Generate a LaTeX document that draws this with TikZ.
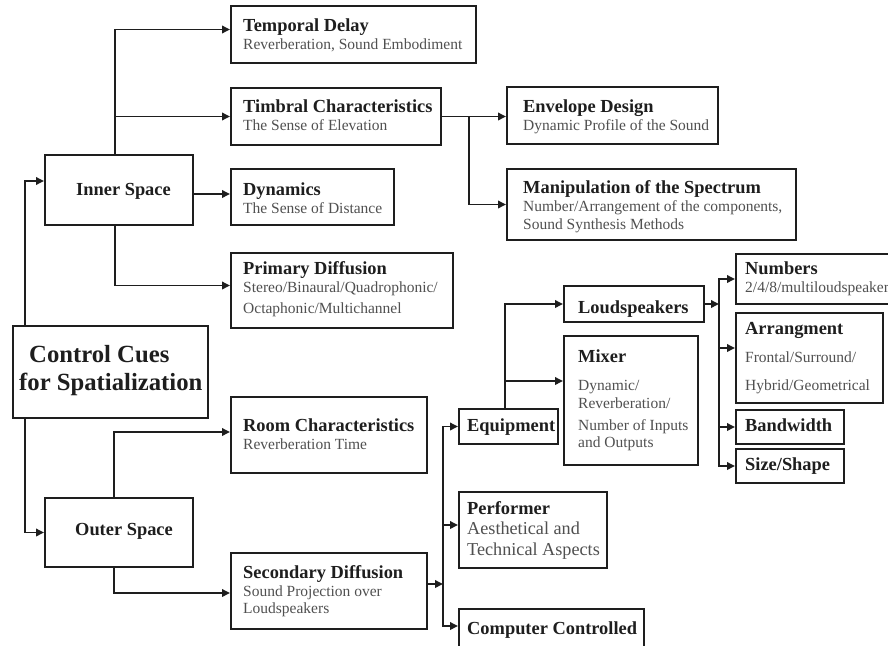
\documentclass[tikz,border=0pt]{standalone}
\usepackage{fontspec}
\setmainfont{Liberation Serif}
\usetikzlibrary{arrows.meta,calc}
\definecolor{ink}{HTML}{1E1E1E}
\definecolor{subink}{HTML}{505050}
\tikzset{
  box/.style={draw=ink, line width=2pt, inner sep=0pt, anchor=north west},
  conn/.style={draw=ink, line width=1.8pt},
  arr/.style={conn, -{Triangle[length=8pt,width=7.5pt]}},
  ttl/.style={anchor=base west, inner sep=0pt, text=ink, font=\fontsize{18.4}{20}\selectfont\bfseries},
  big/.style={anchor=base west, inner sep=0pt, text=ink, font=\fontsize{24.7}{28}\selectfont\bfseries},
  sub/.style={anchor=base west, inner sep=0pt, text=subink, font=\fontsize{15.5}{18}\selectfont},
  subL/.style={anchor=base west, inner sep=0pt, text=subink, font=\fontsize{18.2}{20}\selectfont},
}
% box given by its corners (x1,y1) and (x2,y2), y counted downwards
\newcommand\boxat[5]{\node[box, minimum width=#4-#2, minimum height=#5-#3] (#1) at (#2,#3) {};}
\begin{document}
\begin{tikzpicture}[x=1pt,y=-1pt]
\useasboundingbox (0,0) rectangle (888,645);
\clip (0,0) rectangle (888,645);
\fill[white] (0,0) rectangle (888,645);

% ---- boxes ----
\boxat{ctrl}{12}{325}{207}{417}
\boxat{inner}{44}{154}{192}{224}
\boxat{outer}{44}{497}{192}{566}
\boxat{temporal}{230}{5}{475}{62}
\boxat{timbral}{230}{87}{440}{144}
\boxat{dynamics}{230}{168}{393}{224}
\boxat{primary}{230}{252}{452}{327}
\boxat{envelope}{506}{86}{717}{143}
\boxat{manip}{506}{168}{795}{239}
\boxat{room}{230}{396}{426}{472}
\boxat{secondary}{230}{552}{426}{628}
\boxat{equipment}{458}{408}{557}{443}
\boxat{performer}{458}{491}{606}{567}
\boxat{computer}{458}{608}{643}{650}
\boxat{loud}{563}{285}{703}{321}
\boxat{mixer}{563}{335}{697}{464}
\boxat{numbers}{735}{253}{895}{303}
\boxat{arrang}{735}{312}{882}{402}
\boxat{bandwidth}{735}{409}{843}{443}
\boxat{size}{735}{448}{843}{482}

% ---- texts ----
\node[big] (ctrl-t1) at (29,362) {Control Cues};
\node[big] (ctrl-t2) at (19,390) {for Spatialization};
\node[ttl, anchor=base] (inner-t) at (123.5,195) {Inner Space};
\node[ttl, anchor=base] (outer-t) at (124,535) {Outer Space};

\node[ttl] (temporal-t) at (243,31) {Temporal Delay};
\node[sub] (temporal-s) at (243,49) {Reverberation, Sound Embodiment};
\node[ttl] (timbral-t) at (243,112.5) {Timbral Characteristics};
\node[sub] (timbral-s) at (243,130.5) {The Sense of Elevation};
\node[ttl] (dynamics-t) at (243,195) {Dynamics};
\node[sub] (dynamics-s) at (243,213) {The Sense of Distance};
\node[ttl] (primary-t) at (243,274) {Primary Diffusion};
\node[sub] (primary-s1) at (243,292) {Stereo/Binaural/Quadrophonic/};
\node[sub] (primary-s2) at (243,313) {Octaphonic/Multichannel};

\node[ttl] (envelope-t) at (523,112.5) {Envelope Design};
\node[sub] (envelope-s) at (523,130.5) {Dynamic Profile of the Sound};
\node[ttl] (manip-t) at (523,193) {Manipulation of the Spectrum};
\node[sub] (manip-s1) at (523,211.5) {Number/Arrangement of the components,};
\node[sub] (manip-s2) at (523,229) {Sound Synthesis Methods};

\node[ttl] (room-t) at (243,431.5) {Room Characteristics};
\node[sub] (room-s) at (243,449) {Reverberation Time};
\node[ttl] (secondary-t) at (243,578) {Secondary Diffusion};
\node[sub] (secondary-s1) at (243,596) {Sound Projection over};
\node[sub] (secondary-s2) at (243,613) {Loudspeakers};

\node[ttl] (equipment-t) at (467,431) {Equipment};
\node[ttl] (performer-t) at (467,514) {Performer};
\node[subL] (performer-s1) at (467,534) {Aesthetical and};
\node[subL] (performer-s2) at (467,555) {Technical Aspects};
\node[ttl] (computer-t) at (467,634) {Computer Controlled};

\node[ttl] (loud-t) at (578,313) {Loudspeakers};
\node[ttl] (mixer-t) at (578,362) {Mixer};
\node[sub] (mixer-s1) at (578,390) {Dynamic/};
\node[sub] (mixer-s2) at (578,408) {Reverberation/};
\node[sub] (mixer-s3) at (578,430) {Number of Inputs};
\node[sub] (mixer-s4) at (578,447) {and Outputs};

\node[ttl] (numbers-t) at (745,274) {Numbers};
\node[sub] (numbers-s) at (745,292.5) {2/4/8/multiloudspeaker};
\node[ttl] (arrang-t) at (745,334) {Arrangment};
\node[sub] (arrang-s1) at (745,362) {Frontal/Surround/};
\node[sub] (arrang-s2) at (745,390) {Hybrid/Geometrical};
\node[ttl] (bandwidth-t) at (745,431) {Bandwidth};
\node[ttl] (size-t) at (745,470) {Size/Shape};

% ---- connectors ----
% root to the two spaces
\draw[arr] ($(ctrl.north west)+(13,0)$) |- ($(inner.west)+(0,-9)$);
\draw[arr] ($(ctrl.south west)+(13,0)$) |- (outer.west);

% inner space branches
\draw[arr] ($(inner.north)+(-4,0)$) |- ($(temporal.west)+(0,-5)$);
\draw[arr] ($(inner.north)+(-4,0)$) |- (timbral.west);
\draw[arr] ($(inner.east)+(0,4)$) -- ($(dynamics.west)+(0,-3)$);
\draw[arr] ($(inner.south)+(-4,0)$) |- ($(primary.west)+(0,-5)$);

% timbral characteristics branches
\draw[arr] (timbral.east) -- (timbral.east -| envelope.west);
\draw[arr] ($(timbral.east)+(27,0)$) |- (manip.west);

% outer space branches
\draw[arr] ($(outer.north)+(-5,0)$) |- ($(room.west)+(0,-3)$);
\draw[arr] ($(outer.south)+(-5,0)$) |- ($(secondary.west)+(0,2)$);

% secondary diffusion branches
\coordinate (sj) at ($(secondary.east)+(15,-7)$);
\draw[arr] ($(secondary.east)+(0,-7)$) -- (sj);
\draw[arr] (sj) |- (equipment.west);
\draw[arr] (sj) |- ($(performer.west)+(0,-5)$);
\draw[arr] (sj) |- ($(computer.west)+(0,-4)$);

% equipment branches
\draw[arr] ($(equipment.north)+(-3.5,0)$) |- (loud.west);
\draw[arr] ($(equipment.north)+(-3.5,0)$) |- ($(mixer.west)+(0,-19.5)$);

% loudspeaker branches
\coordinate (lj) at ($(loud.east)+(14,0)$);
\draw[arr] (loud.east) -- (lj);
\draw[arr] (lj) |- (numbers.west);
\draw[arr] (lj) |- ($(arrang.west)+(0,-10)$);
\draw[arr] (lj) |- (bandwidth.west);
\draw[arr] (lj) |- (size.west);
\end{tikzpicture}
\end{document}
